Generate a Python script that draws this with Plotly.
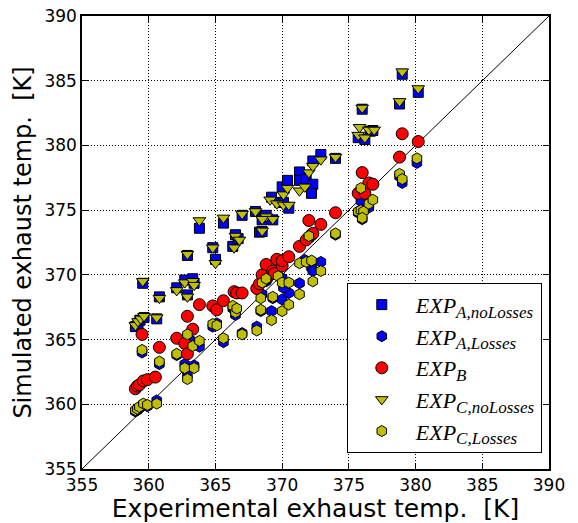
import plotly.graph_objects as go

# EXP_A,noLosses (squares)
a_nl_x = [359.0, 359.2, 359.35, 359.65, 360.6, 359.55, 360.8,
          362.1, 362.7, 363.3, 363.4, 362.9, 362.9, 363.8,
          364.8, 365.0, 365.6, 366.3, 366.5, 366.7, 367.0, 368.0, 368.3, 368.5, 368.8, 369.3, 368.5,
          369.2, 369.8, 370.1, 370.5, 370.0, 370.4, 371.3, 371.3, 371.8, 372.3, 372.2, 372.3, 372.9, 374.0,
          375.7, 376.2, 376.6, 376.8, 376.0, 378.8, 379.0, 380.2]
a_nl_y = [366.0, 366.25, 366.5, 366.7, 366.6, 369.35, 368.3,
          369.0, 369.6, 369.7, 369.35, 368.45, 371.5, 373.6,
          372.1, 371.2, 374.0, 372.2, 373.1, 372.8, 374.6, 374.9, 373.3, 373.35, 374.6, 374.25, 374.25,
          376.0, 375.6, 375.6, 375.15, 376.8, 377.3, 377.95, 377.3, 377.4, 377.0, 376.3, 378.8, 379.3, 379.0,
          380.6, 380.45, 381.1, 381.15, 382.8, 383.2, 385.5, 384.1]

# EXP_A,Losses (blue hexagons)
a_l_x = [359.0, 359.15, 359.3, 359.6, 359.9, 360.6, 359.5, 360.8,
         362.1, 362.7, 362.9, 363.4, 362.9, 363.3, 363.8, 364.8, 365.1, 365.6, 366.3, 366.5, 367.0,
         368.1, 368.4, 369.2, 368.5, 369.3, 370.0, 370.5, 371.3, 368.8, 368.9, 370.0, 370.1,
         371.7, 372.9, 372.2, 372.3, 372.0, 374.0,
         375.9, 376.5, 375.7, 376.0, 378.8, 379.0, 380.1]
a_l_y = [359.45, 359.55, 359.7, 359.95, 359.85, 360.3, 364.0, 363.1,
         363.8, 363.1, 362.25, 363.0, 365.2, 364.85, 364.45, 366.0, 366.25, 364.8, 367.4, 366.9, 365.5,
         366.0, 367.2, 367.2, 368.5, 368.2, 368.1, 368.6, 369.35, 369.5, 369.7, 369.75, 369.0,
         371.15, 371.0, 370.55, 370.3, 372.8, 373.1,
         375.7, 375.2, 374.8, 374.3, 377.6, 377.1, 378.65]

# EXP_B (red circles)
b_x = [359.0, 359.15, 359.3, 359.6, 359.9, 360.5, 359.5, 360.8,
       362.1, 362.7, 362.9, 363.3, 362.9, 363.8, 364.8, 365.1, 365.6, 366.4, 366.6, 367.0,
       368.1, 368.3, 368.5, 368.8, 369.3, 369.4, 369.6, 370.0, 370.0, 370.5, 371.3, 371.8,
       372.2, 372.3, 372.0, 372.9, 374.0,
       375.7, 376.2, 376.5, 376.8, 376.0, 378.8, 379.0, 380.2]
b_y = [361.2, 361.4, 361.5, 361.8, 361.9, 362.1, 365.4, 364.4,
       365.1, 364.7, 363.9, 365.8, 366.8, 367.7, 367.6, 367.3, 368.0, 368.7, 368.6, 368.6,
       368.95, 369.3, 370.0, 370.8, 370.3, 370.1, 371.2, 370.7, 371.1, 371.4, 372.2, 372.7,
       373.1, 373.2, 374.2, 373.9, 374.8,
       376.3, 376.3, 377.1, 377.0, 377.9, 379.1, 380.9, 380.3]

# EXP_C,noLosses (triangles)
c_nl_x = [359.0, 359.2, 359.4, 359.65, 360.6, 359.55, 360.8,
          362.1, 362.7, 363.3, 363.4, 362.9, 362.9, 363.8,
          364.8, 365.0, 365.6, 366.4, 366.5, 366.8, 367.0, 368.0, 368.5, 368.8, 369.3, 368.5,
          369.1, 369.6, 370.1, 370.5, 370.1, 370.4, 371.3, 372.0, 371.7, 372.3, 372.9, 374.0,
          375.8, 375.7, 376.2, 376.5, 376.9, 376.0, 378.8, 379.0, 380.2]
c_nl_y = [366.1, 366.4, 366.6, 366.8, 366.7, 369.5, 368.2,
          368.8, 369.4, 369.5, 369.2, 368.3, 371.6, 374.2,
          372.1, 370.9, 374.4, 372.1, 373.0, 372.7, 374.7, 374.9, 373.4, 374.5, 374.3, 374.3,
          375.8, 375.5, 375.4, 375.4, 376.2, 376.7, 376.5, 377.9, 376.8, 378.4, 378.9, 379.1,
          381.4, 380.8, 380.6, 381.2, 381.2, 382.9, 383.4, 385.7, 384.4]

# EXP_C,Losses (yellow hexagons)
c_l_x = [359.0, 359.15, 359.3, 359.6, 359.9, 360.6, 359.5, 360.8,
         362.1, 362.7, 362.9, 363.4, 362.9, 363.3, 363.8, 364.8, 365.1, 365.6, 366.3, 366.5, 366.6,
         367.0, 368.1, 368.4, 369.2, 368.4, 369.3, 370.0, 370.5, 371.3, 368.5, 368.8, 369.7,
         370.0, 370.5, 371.3, 371.8, 372.2, 372.9, 372.3, 372.0, 374.0,
         375.7, 375.9, 376.1, 376.0, 376.5, 376.8, 375.9, 378.8, 379.0, 380.1]
c_l_y = [359.55, 359.65, 359.8, 360.05, 359.95, 360.05, 364.2, 363.3,
         363.9, 362.8, 361.95, 362.8, 365.4, 364.5, 364.9, 366.2, 366.1, 365.1, 367.6, 367.1, 367.4,
         365.4, 365.7, 367.3, 366.5, 368.2, 368.3, 367.2, 367.7, 368.5, 369.4, 369.7, 369.9,
         369.4, 369.4, 370.9, 371.0, 371.1, 370.3, 369.5, 373.0, 373.2,
         374.9, 375.0, 374.9, 374.4, 375.5, 375.8, 376.7, 377.8, 377.4, 379.0]

diag = [355, 390]
ticks = [355, 360, 365, 370, 375, 380, 385, 390]

BLUE = "#0000ff"
RED = "#ff0000"
YEL = "#bfbf00"
edge = dict(color="black", width=1)


def lab(sub):
    return ("<i>EXP</i><sub><span style='font-size:17px'><i>" + sub +
            "</i></span></sub>")


fig = go.Figure()
fig.add_trace(go.Scatter(x=diag, y=diag, mode="lines", line=dict(color="black", width=1),
                         showlegend=False, hoverinfo="skip"))
fig.add_trace(go.Scatter(x=a_nl_x, y=a_nl_y, mode="markers", name=lab("A,noLosses"),
                         marker=dict(symbol="square", size=10, color=BLUE, line=edge)))
fig.add_trace(go.Scatter(x=a_l_x, y=a_l_y, mode="markers", name=lab("A,Losses"),
                         marker=dict(symbol="hexagon", size=11, color=BLUE, line=edge)))
fig.add_trace(go.Scatter(x=b_x, y=b_y, mode="markers", name=lab("B"),
                         marker=dict(symbol="circle", size=12, color=RED, line=edge)))
fig.add_trace(go.Scatter(x=c_nl_x, y=c_nl_y, mode="markers", name=lab("C,noLosses"),
                         marker=dict(symbol="triangle-down", size=11, color=YEL, line=edge)))
fig.add_trace(go.Scatter(x=c_l_x, y=c_l_y, mode="markers", name=lab("C,Losses"),
                         marker=dict(symbol="hexagon", size=11, color=YEL, line=edge)))

axis_common = dict(
    tickvals=ticks, ticktext=[str(t) for t in ticks],
    showgrid=True, gridcolor="black", griddash="1px,2px", gridwidth=1,
    showline=True, linecolor="black", linewidth=1.5, mirror="ticks",
    ticks="inside", ticklen=6, tickcolor="black", tickwidth=1,
    zeroline=False, automargin=False, ticklabeloverflow="allow",
    tickfont=dict(family="DejaVu Sans", size=17, color="black"),
)

fig.update_layout(
    width=570, height=515,
    margin=dict(l=74, r=29, t=8, b=54),
    paper_bgcolor="white", plot_bgcolor="white",
    xaxis=dict(range=[355, 390], title=dict(text="Experimental exhaust temp.\u00a0\u00a0[K]",
               font=dict(family="DejaVu Sans", size=25, color="black"), standoff=6), **axis_common),
    yaxis=dict(range=[355, 390], title=dict(text="Simulated exhaust temp.\u00a0\u00a0[K]",
               font=dict(family="DejaVu Sans", size=24, color="black"), standoff=6), **axis_common),
    legend=dict(x=0.567, y=0.411, xanchor="left", yanchor="top",
                bordercolor="black", borderwidth=1, bgcolor="white",
                font=dict(family="Liberation Serif", size=22, color="black"),
                tracegroupgap=0, itemwidth=58),
    showlegend=True,
)

fig.write_html("out.html")
